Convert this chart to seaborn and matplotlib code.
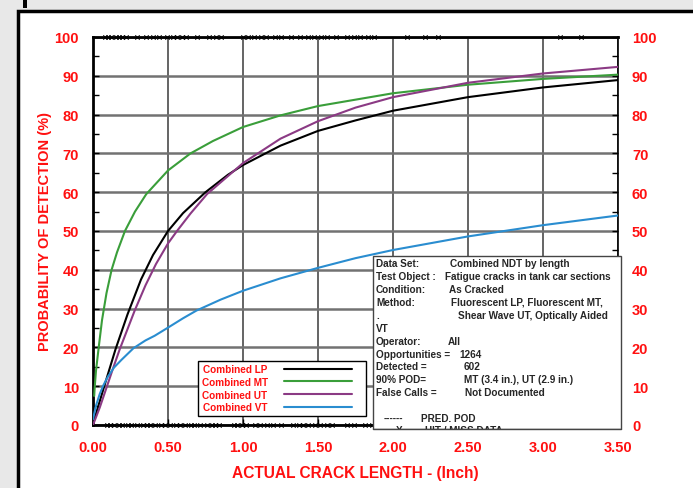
import numpy as np
import pandas as pd
import matplotlib
matplotlib.use("Agg")
import matplotlib.pyplot as plt
import matplotlib.patches as mpatches
import seaborn as sns

# --- curve points (crack length in inch, POD in %) ---
lp_x = [0.0, 0.03, 0.075, 0.15, 0.23, 0.32, 0.4, 0.5, 0.6, 0.75, 0.9, 1.0, 1.25, 1.5, 1.75,
        2.0, 2.5, 3.0, 3.5]
lp_y = [0.5, 4.2, 10.0, 19.5, 28.5, 37.5, 43.8, 50.0, 54.6, 60.0, 64.5, 67.0, 72.0, 75.8, 78.5,
        81.0, 84.5, 87.0, 88.9]

mt_x = [0.008, 0.011, 0.02, 0.038, 0.06, 0.09, 0.124, 0.16, 0.213, 0.28, 0.355, 0.5, 0.65,
        0.8, 1.0, 1.25, 1.5, 2.0, 2.5, 3.0, 3.5]
mt_y = [7.5, 9.5, 14.0, 20.0, 27.0, 34.0, 40.0, 44.5, 50.0, 55.0, 59.5, 65.6, 70.0,
        73.2, 76.8, 79.8, 82.2, 85.5, 87.7, 89.2, 90.3]

ut_x = [0.0, 0.045, 0.089, 0.13, 0.178, 0.278, 0.35, 0.42, 0.5, 0.56, 0.65, 0.76, 0.88, 1.0,
        1.25, 1.5, 1.75, 2.0, 2.5, 3.0, 3.5]
ut_y = [0.0, 4.5, 9.5, 14.2, 19.5, 29.5, 36.0, 41.5, 46.8, 50.0, 54.5, 59.5, 63.5, 67.5,
        73.8, 78.3, 81.8, 84.5, 88.2, 90.6, 92.3]

vt_x = [0.0, 0.02, 0.045, 0.07, 0.1, 0.14, 0.19, 0.27, 0.35, 0.411, 0.5, 0.6, 0.69, 0.85,
        1.0, 1.25, 1.5, 1.75, 2.0, 2.5, 3.0, 3.5]
vt_y = [1.5, 5.0, 8.0, 10.3, 12.5, 14.8, 16.8, 19.8, 21.8, 23.0, 25.1, 27.5, 29.5, 32.3,
        34.6, 37.8, 40.5, 43.0, 45.1, 48.6, 51.5, 54.0]

methods = ["Combined LP", "Combined MT", "Combined UT", "Combined VT"]
colors = ["#000000", "#3a9e3a", "#8b3a84", "#2a8dd0"]

# hit / miss data (x marks on the 100 % and 0 % lines)
hit_x = [0.08, 0.10, 0.12, 0.15, 0.17, 0.19, 0.22, 0.29, 0.35, 0.40, 0.44, 0.49, 0.53,
         0.56, 0.59, 0.62, 0.69, 0.77, 0.82, 0.85, 1.00, 1.03, 1.07, 1.12, 1.15, 1.21,
         1.25, 1.32, 1.38, 1.43, 1.47, 1.52, 1.56, 1.62, 1.69, 1.74, 1.78, 1.83, 1.87,
         2.09, 2.21, 2.30, 3.11, 3.25]
miss_x = [0.09, 0.11, 0.14, 0.17, 0.19, 0.23, 0.25, 0.29, 0.33, 0.36, 0.38, 0.41, 0.45,
          0.48, 0.51, 0.55, 0.58, 0.61, 0.65, 0.67, 0.71, 0.76, 0.79, 0.81, 0.84, 0.94,
          0.96, 0.99, 1.02, 1.08, 1.11, 1.16, 1.20, 1.25, 1.33, 1.37, 1.40, 1.43, 1.48,
          1.51, 1.56, 1.59, 1.69, 1.74, 1.81, 1.86]

info_labels = ["Data Set:", "Test Object :", "Condition:", "Method:", ".", "VT",
               "Operator:", "Opportunities =", "Detected =", "90% POD=", "False Calls ="]
info_values = ["Combined NDT by length", "Fatigue cracks in tank car sections", "As Cracked",
               "Fluorescent LP, Fluorescent MT,", "Shear Wave UT, Optically Aided", "",
               "All", "1264", "602", "MT (3.4 in.), UT (2.9 in.)", "Not Documented"]
info_value_px = [450, 445, 449, 451, 458, 0, 448, 459, 464, 464, 465]

df = pd.concat([
    pd.DataFrame({"length": xs, "pod": ys, "method": m})
    for xs, ys, m in zip([lp_x, mt_x, ut_x, vt_x], [lp_y, mt_y, ut_y, vt_y], methods)
], ignore_index=True)

sns.set_style("white")
plt.rcParams["font.family"] = ["Liberation Sans", "DejaVu Sans"]
RED = "#ff1010"

fig = plt.figure(figsize=(6.93, 4.89), dpi=100, facecolor="#e8e8e8")
W, H = 693, 489
# white panel with black frame (behind the axes)
fig.patches.append(mpatches.Rectangle((18 / W, -0.1), 1.2, 0.1 + (H - 12) / H,
                                      transform=fig.transFigure, fc="white", ec="black",
                                      lw=2.5, zorder=-5))
fig.patches.append(mpatches.Rectangle((23 / W, (H - 9) / H), 3.5 / W, 9 / H,
                                      transform=fig.transFigure, fc="black", ec="none",
                                      zorder=-5))

ax = fig.add_axes([93 / W, (H - 426) / H, (618 - 93) / W, (426 - 38) / H])
ax.set_facecolor("white")

sns.lineplot(data=df, x="length", y="pod", hue="method", hue_order=methods,
             palette=colors, estimator=None, sort=True, lw=1.5, ax=ax, zorder=3)

ax.scatter(hit_x, [100] * len(hit_x), marker="x", s=10, c="k", lw=0.7, clip_on=False, zorder=6)
ax.scatter(miss_x, [0] * len(miss_x), marker="x", s=10, c="k", lw=0.7, clip_on=False, zorder=6)

ax.set_xlim(0, 3.5)
ax.set_ylim(0, 100)
ax.set_xticks(np.arange(0, 3.51, 0.5))
ax.set_yticks(np.arange(0, 101, 10))
ax.set_yticks(np.arange(5, 100, 10), minor=True)
ax.set_xticklabels([f"{v:.2f}" for v in np.arange(0, 3.51, 0.5)])

ax.yaxis.grid(True, color="#727272", lw=1.8, zorder=1)
ax.xaxis.grid(True, color="#3a3a3a", lw=1.1, zorder=1)
ax.set_axisbelow(True)

for side in ["left", "bottom", "top"]:
    ax.spines[side].set_color("black")
    ax.spines[side].set_linewidth(2)
ax.spines["right"].set_color("black")
ax.spines["right"].set_linewidth(1.2)

ax.tick_params(axis="y", which="both", left=True, right=True, labelleft=True, labelright=True,
               direction="in", length=4, width=1, colors="black", labelcolor=RED,
               labelsize=10.5, pad=10)
ax.tick_params(axis="x", which="major", bottom=True, direction="in", length=4, width=1,
               colors="black", labelcolor=RED, labelsize=10.5, pad=11)
for lab in ax.get_xticklabels() + ax.get_yticklabels():
    lab.set_fontweight("bold")

ax.set_xlabel("ACTUAL CRACK LENGTH - (Inch)", color=RED, fontsize=11.2, fontweight="bold", labelpad=8)
ax.set_ylabel("PROBABILITY OF DETECTION (%)", color=RED, fontsize=10.5, fontweight="bold", labelpad=2)


def axx(px):
    return (px - 93) / 525


def axy(py):
    return (426 - py) / 388


# legend with a hand-sized square frame
leg_box = mpatches.Rectangle((axx(198), axy(417)), axx(366) - axx(198), axy(362) - axy(417),
                             transform=ax.transAxes, fc="white", ec="black", lw=1.0,
                             clip_on=False, zorder=6.5)
ax.add_patch(leg_box)
handles, labels = ax.get_legend_handles_labels()
leg = ax.legend(handles, labels, loc="lower left", bbox_to_anchor=(axx(198), axy(417)),
                borderaxespad=0, markerfirst=False, frameon=False, labelcolor=RED,
                prop={"weight": "bold", "size": 7.2},
                handlelength=6.8, handletextpad=1.6, labelspacing=0.28, borderpad=0.35)
leg.set_zorder(7)

# info box
box = mpatches.Rectangle((axx(373), axy(430)), axx(621) - axx(373), axy(257) - axy(430),
                         transform=ax.transAxes, fc="white", ec="#444444", lw=1.0,
                         clip_on=False, zorder=8)
ax.add_patch(box)

row_py = 264.3
for lab, val, vpx in zip(info_labels, info_values, info_value_px):
    ax.text(axx(376), axy(row_py), lab, transform=ax.transAxes, fontsize=7.2,
            fontweight="bold", va="center", ha="left", zorder=9, clip_on=False)
    if val:
        ax.text(axx(vpx), axy(row_py), val, transform=ax.transAxes, fontsize=7.2,
                fontweight="bold", va="center", ha="left", zorder=9, clip_on=False)
    row_py += 12.9

row_py += 12.9
ax.text(axx(384), axy(row_py), "------", transform=ax.transAxes, fontsize=7.2,
        fontweight="bold", va="center", ha="left", zorder=9, clip_on=False)
ax.text(axx(421), axy(row_py), "PRED. POD", transform=ax.transAxes, fontsize=7.2,
        fontweight="bold", va="center", ha="left", zorder=9, clip_on=False)

# last line is cut off by the bottom of the box
for px, s in [(396, "X  --"), (425, "HIT / MISS DATA")]:
    ax.text(axx(px), axy(431.5), s, transform=ax.transAxes, fontsize=7.2,
            fontweight="bold", va="center", ha="left", zorder=9, clip_on=False)
ax.add_patch(mpatches.Rectangle((axx(372), axy(440)), axx(622) - axx(372), axy(430.8) - axy(440),
                                transform=ax.transAxes, fc="white", ec="none",
                                clip_on=False, zorder=9.5))
ax.plot([axx(373), axx(621)], [axy(430), axy(430)], transform=ax.transAxes,
        color="#444444", lw=1.0, clip_on=False, zorder=9.6)

fig.savefig("out.png", dpi=100, facecolor=fig.get_facecolor())
